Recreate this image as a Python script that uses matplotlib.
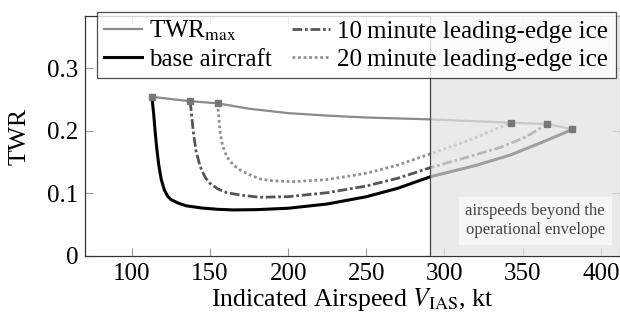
import matplotlib
matplotlib.use('Agg')
import matplotlib.pyplot as plt

plt.rcParams['font.family'] = ['Liberation Serif', 'DejaVu Serif']
plt.rcParams['mathtext.fontset'] = 'stix'

# (airspeed in kt, thrust-to-weight ratio)
twr_max_v = [112.8, 137.3, 154.8, 175, 200, 225, 250, 291, 342.5, 365.9, 381.9]
twr_max = [0.254, 0.247, 0.2437, 0.235, 0.228, 0.224, 0.221, 0.218, 0.2127, 0.2106, 0.202]

base_v = [112.8, 114.0, 115.0, 116.0, 117.2, 118.8, 120.8, 123.0, 125.0, 130, 135, 145, 155, 165,
          180, 200, 225, 250, 270, 291, 320, 342, 361, 381.9]
base_twr = [0.254, 0.225, 0.195, 0.170, 0.145, 0.122, 0.105, 0.095, 0.090, 0.084, 0.080, 0.0765,
            0.0745, 0.0735, 0.0740, 0.0762, 0.083, 0.0946, 0.108, 0.1265, 0.1445, 0.161, 0.180, 0.202]

ice10_v = [137.3, 138.2, 139.4, 141, 143.7, 147, 150, 155, 160.8, 170, 182, 200, 225, 250, 270,
           291, 315, 336, 352, 365.9]
ice10_twr = [0.247, 0.225, 0.196, 0.168, 0.1425, 0.125, 0.116, 0.107, 0.101, 0.097, 0.0937, 0.0947,
             0.101, 0.1117, 0.124, 0.141, 0.158, 0.1735, 0.19, 0.2106]

ice20_v = [154.8, 155.5, 156.5, 158, 160.8, 165, 169.3, 175, 182, 190, 203, 225, 250, 270, 291,
           316, 342.5]
ice20_twr = [0.2437, 0.225, 0.196, 0.176, 0.158, 0.145, 0.137, 0.130, 0.123, 0.120, 0.1186, 0.122,
             0.132, 0.145, 0.163, 0.185, 0.2127]

envelope_limit = 291
x_ticks = [100, 150, 200, 250, 300, 350, 400]
y_ticks = [0, 0.1, 0.2, 0.3]

fig = plt.figure(figsize=(6.2, 3.16), dpi=100)
ax = fig.add_axes([85 / 620, 60 / 316, 535 / 620, 240 / 316])

ax.plot(twr_max_v, twr_max, color='#8a8a8a', lw=1.6, label=r'TWR$_\mathrm{max}$', zorder=2)
ax.plot(base_v, base_twr, color='black', lw=2.2, label='base aircraft', zorder=2)
ax.plot(ice10_v, ice10_twr, color='#555555', lw=2.0, ls=(0, (3.5, 1, 1, 1)),
        label='10\u2009minute leading-edge ice', zorder=2)
ax.plot(ice20_v, ice20_twr, color='#909090', lw=2.0, ls=(0, (1, 1)),
        label='20\u2009minute leading-edge ice', zorder=2)

# outside the envelope: light overlay that fades the curves
ax.axvspan(envelope_limit, 420, color='#e2e2e2', alpha=0.71, lw=0, zorder=3)
ax.axvline(envelope_limit, color='#444444', lw=0.9, zorder=3)

# end points of each curve
for xs, ys in [(base_v, base_twr), (ice10_v, ice10_twr), (ice20_v, ice20_twr)]:
    ax.plot([xs[0], xs[-1]], [ys[0], ys[-1]], ls='none', marker='s', ms=4.5,
            color='#777777', zorder=4)

ax.text(358, 0.056, 'airspeeds beyond the\noperational envelope', fontsize=12,
        color='#444444', ha='center', va='center', linespacing=1.25, zorder=5,
        bbox=dict(boxstyle='square,pad=0.4', fc='white', ec='none', alpha=0.6))

ax.set_xlim(70, 412.3)
ax.set_ylim(0, 0.383)
ax.set_xticks(x_ticks)
ax.set_yticks(y_ticks)
ax.set_yticklabels(['0', '0.1', '0.2', '0.3'])
ax.tick_params(direction='in', length=6, width=0.8, color='#999999', labelsize=18,
               top=True, right=True, pad=5)
for s in ax.spines.values():
    s.set_color('#333333')
    s.set_linewidth(0.9)

ax.set_xlabel(r'Indicated Airspeed $V_\mathrm{IAS}$, kt', fontsize=18.5, labelpad=1)
ax.set_ylabel('TWR', fontsize=18.5, labelpad=12)

leg = ax.legend(loc='upper left', bbox_to_anchor=(0.022, 1.018), ncol=2, fontsize=18,
                frameon=True, fancybox=False, borderaxespad=0, handlelength=1.5,
                handletextpad=0.3, columnspacing=0.8, labelspacing=0.2, borderpad=0.3)
leg.get_frame().set_edgecolor('#222222')
leg.get_frame().set_linewidth(0.9)
leg.set_zorder(10)

fig.savefig('out.png', dpi=100)
